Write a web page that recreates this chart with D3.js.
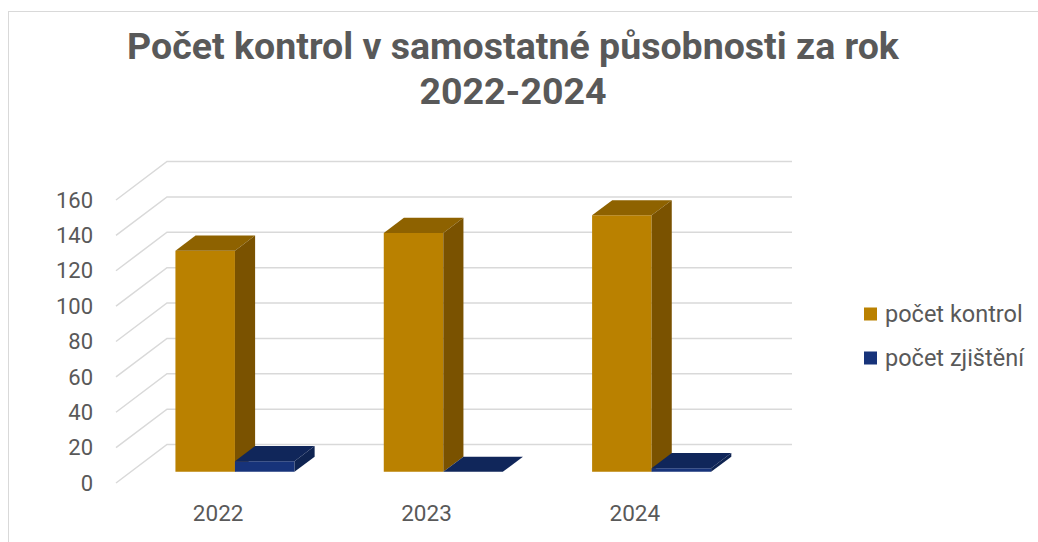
<!DOCTYPE html>
<html>
<head>
<meta charset="utf-8">
<script src="https://cdn.jsdelivr.net/npm/d3@7"></script>
<style>
  body { margin: 0; background: #fff; }
  text { font-family: Roboto, sans-serif; fill: #595959; }
</style>
</head>
<body>
<div id="chart"></div>
<script>
// data
const categories = ['2022', '2023', '2024']
const seriesNames = ['počet kontrol', 'počet zjištění']
const pocetKontrol = [125, 135, 145]
const pocetZjisteni = [6, 0, 2]
const yTicks = [0, 20, 40, 60, 80, 100, 120, 140, 160]
const titleLines = ['Počet kontrol v samostatné působnosti za rok', '2022-2024']

// colors: front, top, side
const faceColors = [
  { front: '#ba8100', top: '#8e6200', side: '#7a5200' },
  { front: '#17337a', top: '#10265a', side: '#0f2452' }
]

const W = 1038, H = 542
// depth of the 3d box (oblique projection)
const depthX = 51, depthY = 38.5
const zFront = 0.29, zBack = 0.685

const svg = d3.select('#chart').append('svg')
  .attr('width', W).attr('height', H)

// chart frame
svg.append('rect')
  .attr('x', 8.5).attr('y', 11.5)
  .attr('width', 1200).attr('height', 800)
  .attr('fill', 'none').attr('stroke', '#d9d9d9')

// title
svg.append('g').selectAll('text')
  .data(titleLines)
  .join('text')
  .attr('x', 513)
  .attr('y', (d, i) => 59 + i * 45)
  .attr('text-anchor', 'middle')
  .style('font-size', '37.5px')
  .style('font-weight', 'bold')
  .text(d => d)

// scales, front plane
const x0 = d3.scaleBand().domain(categories).range([116, 741])
const x1 = d3.scaleBand().domain(seriesNames).range([0, x0.bandwidth()]).paddingOuter(0.75)
const y = d3.scaleLinear().domain([0, 160]).range([483, 200])

// project a point at depth z (0 front .. 1 back)
const proj = (px, py, z) => [px + z * depthX, py - z * depthY]

// gridlines: side wall diagonal + back wall
const grid = svg.append('g')
  .attr('stroke', '#d9d9d9').attr('stroke-width', 1.5).attr('fill', 'none')
yTicks.forEach(t => {
  const a = proj(116, y(t), 0)
  const b = proj(116, y(t), 1)
  const c = proj(741, y(t), 1)
  grid.append('polyline').attr('points', [a, b, c].map(p => p.join(',')).join(' '))
})

// y labels
svg.append('g').selectAll('text')
  .data(yTicks)
  .join('text')
  .attr('x', 93)
  .attr('y', d => y(d))
  .attr('dy', '0.35em')
  .attr('text-anchor', 'end')
  .style('font-size', '22px')
  .text(d => d)

// x labels
svg.append('g').selectAll('text')
  .data(categories)
  .join('text')
  .attr('x', d => x0(d) + x0.bandwidth() / 2 - 2)
  .attr('y', 521)
  .attr('text-anchor', 'middle')
  .style('font-size', '22.5px')
  .text(d => d)

// bars
const seriesValues = [pocetKontrol, pocetZjisteni]
const bars = svg.append('g')
const pts = arr => arr.map(p => p.join(',')).join(' ')
categories.forEach((cat, ci) => {
  seriesNames.forEach((s, si) => {
    const v = seriesValues[si][ci]
    const left = x0(cat) + x1(s)
    const right = left + x1.bandwidth()
    const y0 = y(0), yv = y(v)
    const c = faceColors[si]
    const g = bars.append('g')
    // front face
    g.append('polygon')
      .attr('points', pts([proj(left, yv, zFront), proj(right, yv, zFront), proj(right, y0, zFront), proj(left, y0, zFront)]))
      .attr('fill', c.front)
    // top face
    g.append('polygon')
      .attr('points', pts([proj(left, yv, zFront), proj(right, yv, zFront), proj(right, yv, zBack), proj(left, yv, zBack)]))
      .attr('fill', c.top)
    // side face
    g.append('polygon')
      .attr('points', pts([proj(right, yv, zFront), proj(right, yv, zBack), proj(right, y0, zBack), proj(right, y0, zFront)]))
      .attr('fill', c.side)
  })
})

// legend
const legend = svg.append('g').selectAll('g')
  .data(seriesNames)
  .join('g')
  .attr('transform', (d, i) => `translate(864,${314 + i * 44})`)
legend.append('rect')
  .attr('x', 0).attr('y', -6.5)
  .attr('width', 13).attr('height', 13)
  .attr('fill', (d, i) => faceColors[i].front)
legend.append('text')
  .attr('x', 21)
  .attr('dy', '0.35em')
  .style('font-size', '23.5px')
  .text(d => d)
</script>
</body>
</html>
